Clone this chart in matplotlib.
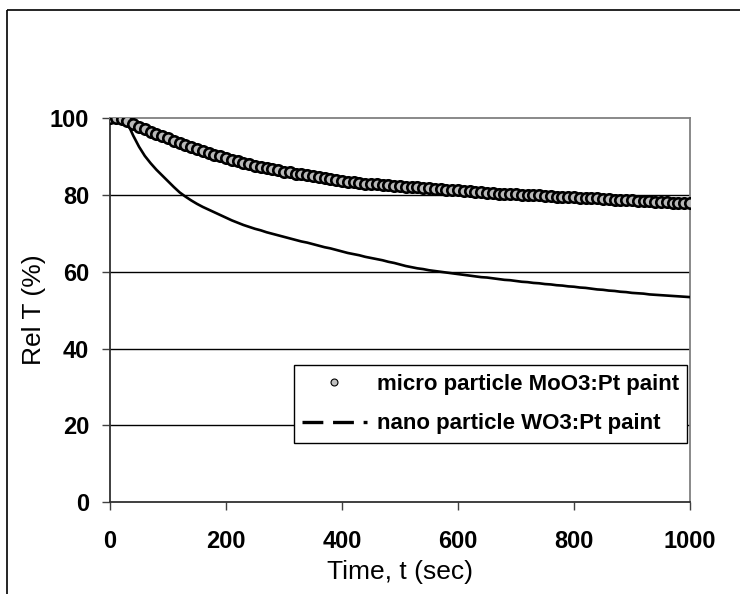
import matplotlib
matplotlib.use("Agg")
import matplotlib.pyplot as plt
from matplotlib.lines import Line2D

plt.rcParams['font.family'] = ['Liberation Sans', 'DejaVu Sans']
plt.rcParams['lines.scale_dashes'] = False

time_s = list(range(0, 1001, 10))

micro_moo3 = [
    100.0, 100.0, 99.9, 99.4, 98.6, 97.8, 97.1, 96.5, 95.9, 95.3,
    94.8, 94.2, 93.6, 93.1, 92.6, 92.1, 91.6, 91.0, 90.5, 90.1,
    89.6, 89.2, 88.8, 88.3, 88.0, 87.6, 87.3, 87.0, 86.7, 86.4,
    86.1, 85.9, 85.6, 85.4, 85.1, 84.9, 84.6, 84.4, 84.2, 83.9,
    83.7, 83.5, 83.3, 83.1, 83.0, 82.9, 82.8, 82.7, 82.5, 82.4,
    82.3, 82.2, 82.1, 82.0, 81.9, 81.8, 81.6, 81.5, 81.4, 81.3,
    81.2, 81.1, 81.0, 80.8, 80.7, 80.6, 80.5, 80.4, 80.3, 80.3,
    80.2, 80.1, 80.0, 79.9, 79.9, 79.8, 79.7, 79.6, 79.5, 79.5,
    79.4, 79.3, 79.2, 79.1, 79.1, 79.0, 78.9, 78.8, 78.8, 78.7,
    78.6, 78.5, 78.4, 78.4, 78.3, 78.2, 78.1, 78.0, 78.0, 77.9,
    77.8,
]

nano_wo3 = [
    100.0, 100.0, 100.0, 98.8, 95.5, 92.6, 90.2, 88.3, 86.6, 85.1,
    83.6, 82.1, 80.7, 79.6, 78.6, 77.7, 76.9, 76.2, 75.5, 74.8,
    74.1, 73.4, 72.8, 72.2, 71.7, 71.2, 70.8, 70.3, 69.9, 69.5,
    69.1, 68.7, 68.3, 67.9, 67.6, 67.2, 66.8, 66.4, 66.1, 65.7,
    65.3, 64.9, 64.6, 64.3, 63.9, 63.6, 63.3, 63.0, 62.6, 62.3,
    61.9, 61.5, 61.2, 60.9, 60.7, 60.4, 60.2, 60.0, 59.8, 59.6,
    59.4, 59.2, 59.0, 58.8, 58.6, 58.5, 58.3, 58.1, 57.9, 57.8,
    57.6, 57.4, 57.3, 57.1, 57.0, 56.8, 56.7, 56.5, 56.4, 56.2,
    56.1, 55.9, 55.8, 55.6, 55.4, 55.3, 55.1, 55.0, 54.8, 54.7,
    54.5, 54.4, 54.3, 54.1, 54.0, 53.9, 53.8, 53.7, 53.6, 53.5,
    53.4,
]

x_ticks = [0, 200, 400, 600, 800, 1000]
y_ticks = [0, 20, 40, 60, 80, 100]
label_micro = "micro particle MoO3:Pt paint"
label_nano = "nano particle WO3:Pt paint"

fig = plt.figure(figsize=(7.4, 5.94), dpi=100)
ax = fig.add_axes([110/740, 92/594, 580/740, 383.7/594])

# figure frame (left and top visible)
fig.add_artist(Line2D([7/740, 7/740], [-0.05, 1 - 10/594], transform=fig.transFigure,
                      color='black', lw=1.2, solid_capstyle='butt'))
fig.add_artist(Line2D([7/740, 1.05], [1 - 10/594, 1 - 10/594], transform=fig.transFigure,
                      color='black', lw=1.2, solid_capstyle='butt'))

ax.set_xlim(0, 1000)
ax.set_ylim(0, 100)
for yv in y_ticks[1:-1]:
    ax.axhline(yv, color='black', lw=1.0, zorder=1)

ax.plot(time_s, nano_wo3, color='black', lw=1.9, zorder=3)
ax.plot(time_s, micro_moo3, ls='none', marker='o', ms=7.5, mfc='#b8b8b8',
        mec='black', mew=1.9, zorder=4)

ax.set_xticks(x_ticks)
ax.set_yticks(y_ticks)
ax.tick_params(axis='x', direction='out', length=6, width=1, color='#404040',
               pad=14, labelsize=17)
ax.tick_params(axis='y', direction='out', length=6, width=1, color='#404040',
               pad=9, labelsize=17)
for lab in ax.get_xticklabels() + ax.get_yticklabels():
    lab.set_fontweight('bold')

ax.spines['top'].set_color('#808080')
ax.spines['right'].set_color('#808080')
ax.spines['left'].set_color('#303030')
ax.spines['bottom'].set_color('#303030')
for s in ax.spines.values():
    s.set_linewidth(1.3)

ax.set_xlabel("Time, t (sec)", fontsize=19, labelpad=5)
ax.set_ylabel("Rel T (%)", fontsize=19, labelpad=3)

h_micro = Line2D([], [], ls='none', marker='o', ms=5, mfc='#c0c0c0', mec='black', mew=0.8)
h_nano = Line2D([], [], color='black', lw=2.4, dashes=(15, 7, 15, 7, 3, 100))
leg = ax.legend([h_micro, h_nano], [label_micro, label_nano],
                loc='lower right', bbox_to_anchor=(0.995, 0.154), borderaxespad=0,
                frameon=True, fancybox=False, edgecolor='black', framealpha=1,
                prop={'weight': 'bold', 'size': 16}, handlelength=2.9,
                handletextpad=0.45, labelspacing=0.85, borderpad=0.38)
leg.get_frame().set_linewidth(1.0)

fig.savefig("out.png", dpi=100)
